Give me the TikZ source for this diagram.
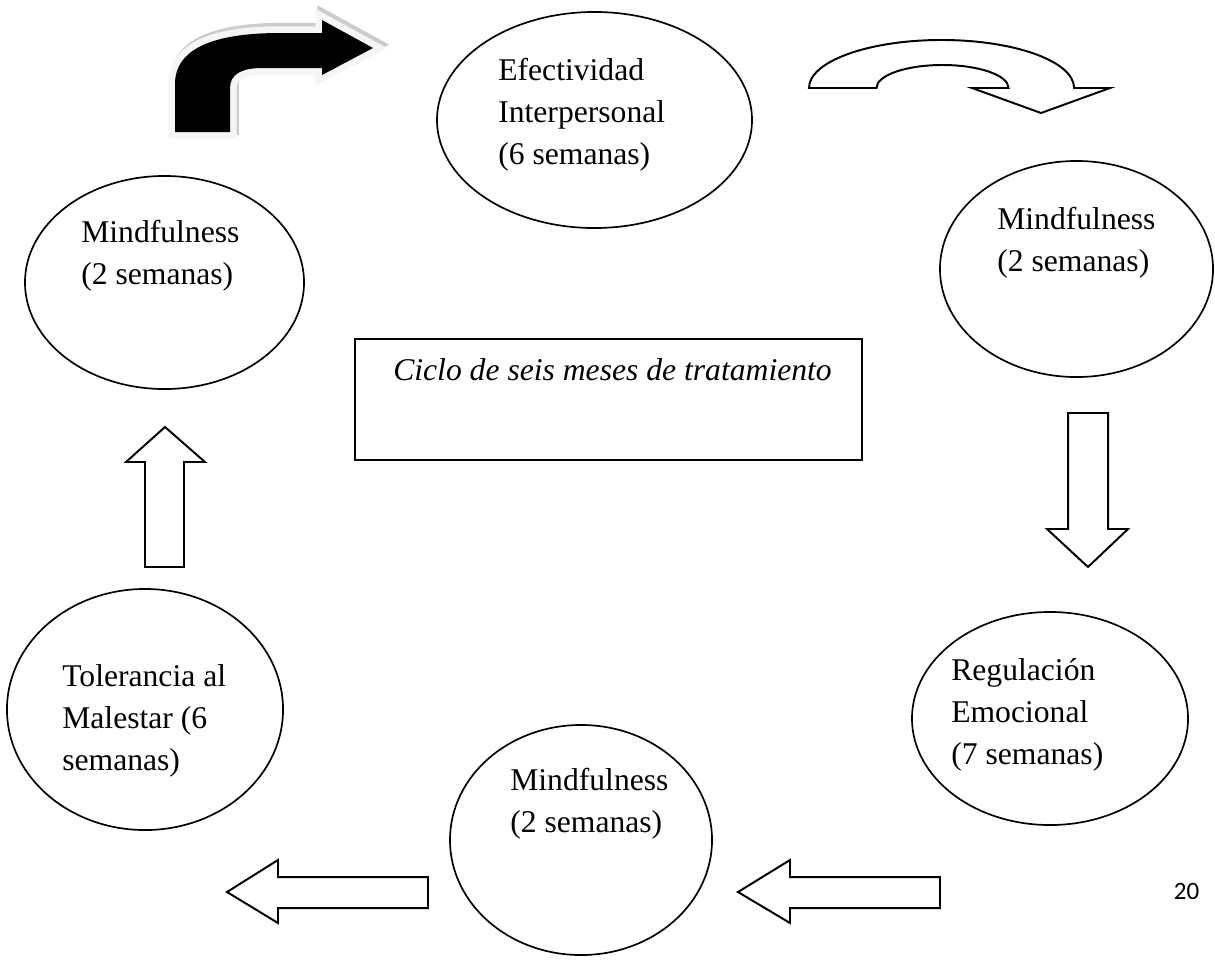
\documentclass[tikz,border=0pt]{standalone}
\usepackage{fontspec}
\setmainfont{Liberation Serif}
\newfontfamily\pagefont{Carlito}
\usepackage{tikz}
\usetikzlibrary{shapes.geometric}
\newcommand{\phasefont}{\fontsize{22.5}{30}\selectfont}
\tikzset{
  phase/.style={
    ellipse,
    draw=black,
    line width=1.2pt,
    inner sep=0pt
    },
  phasetext/.style={
    anchor=north west,
    align=left,
    inner sep=0pt,
    font=\phasefont
    },
  cyclebox/.style={
    rectangle,
    draw=black,
    line width=1.4pt,
    inner sep=0pt
    },
  blockarrow/.style={draw=black, fill=white, line width=1.4pt, line join=miter},
  bentarrow/.style={
    fill=black,
    preaction={draw=gray!40, fill=gray!40, line width=9.5pt,
      transform canvas={shift={(1.5pt,2.5pt)}}},
    preaction={draw=gray!8, line width=9.5pt}
    },
}

\begin{document}
\begin{tikzpicture}[
            x = 0.025cm, y = -0.025cm, % one unit per pixel
            line join = miter
        ]
  \useasboundingbox (0,0) rectangle (1215,961);

  % the six phases of the cycle
  \node[phase, minimum width=7.875cm, minimum height=5.4cm]   (efect) at (594.5,120) {};
  \node[phase, minimum width=6.975cm, minimum height=5.325cm] (mindA) at (164.5,282.5) {};
  \node[phase, minimum width=6.825cm, minimum height=5.4cm]   (mindB) at (1076.5,269) {};
  \node[phase, minimum width=6.9cm,   minimum height=5.325cm] (regul) at (1050,718.5) {};
  \node[phase, minimum width=6.55cm,  minimum height=5.75cm]  (mindC) at (581,840) {};
  \node[phase, minimum width=6.9cm,   minimum height=6.025cm] (toler) at (145,709.5) {};

  \node[phasetext] (efecttext) at (498,58)  {Efectividad\\Interpersonal\\(6 semanas)};
  \node[phasetext] (mindAtext) at (81,220)  {Mindfulness\\(2 semanas)};
  \node[phasetext] (mindBtext) at (997,207) {Mindfulness\\(2 semanas)};
  \node[phasetext] (regultext) at (951,658) {Regulación\\Emocional\\(7 semanas)};
  \node[phasetext] (mindCtext) at (510,768) {Mindfulness\\(2 semanas)};
  \node[phasetext] (tolertext) at (62,664)  {Tolerancia al\\Malestar (6\\semanas)};

  % centre box
  \node[cyclebox, minimum width=12.675cm, minimum height=3.025cm] (cycle) at (608.5,399.5) {};
  \node[anchor=base, inner sep=0pt, font=\phasefont\itshape] (cycletext) at (612.5,380)
       {Ciclo de seis meses de tratamiento};

  % block arrows
  \path[bentarrow] (175,132) -- (175,84) .. controls (175,48) and (215,33) .. (280,33)
       -- (322,33) -- (322,20) -- (373,48) -- (322,75) -- (322,68) -- (262,68)
       .. controls (242,68) and (230,74) .. (230,88) -- (230,132) -- cycle;
  \draw[blockarrow] (809,88) arc[start angle=180, end angle=0, x radius=3.3125cm, y radius=1.2cm]
       -- (1110,88) -- (1041,113) -- (972,88) -- (1008.5,88)
       arc[start angle=0, end angle=180, x radius=1.65cm, y radius=0.575cm] -- cycle;
  \draw[blockarrow] (1068,413) -- (1068,529) -- (1047,529) -- (1088,567)
       -- (1128,529) -- (1108,529) -- (1108,413) -- cycle;
  \draw[blockarrow] (940,877) -- (790,877) -- (790,860) -- (738,892)
       -- (790,923) -- (790,908) -- (940,908) -- cycle;
  \draw[blockarrow] (428,877) -- (278,877) -- (278,860) -- (227,892)
       -- (278,923) -- (278,908) -- (428,908) -- cycle;
  \draw[blockarrow] (145,567) -- (145,462) -- (126,462) -- (165,427)
       -- (205,462) -- (184,462) -- (184,567) -- cycle;

  % page number
  \node[inner sep=0pt, font=\pagefont\fontsize{17.8}{20}\selectfont] (pagenum) at (1186.5,891) {20};
\end{tikzpicture}
\end{document}
